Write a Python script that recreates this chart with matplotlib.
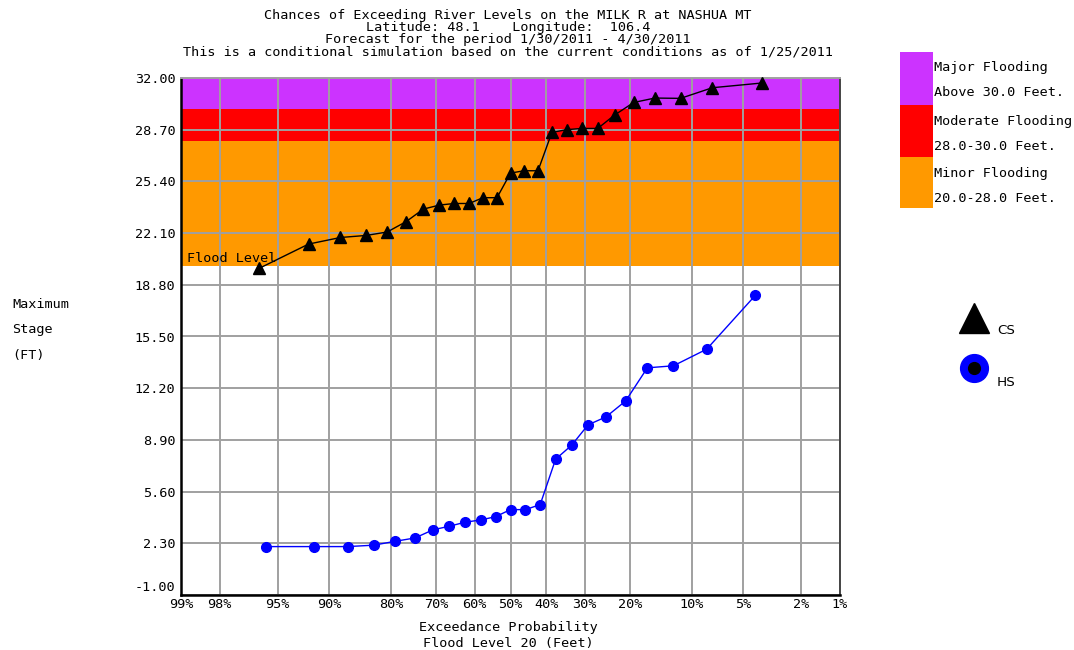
import numpy as np
import matplotlib
matplotlib.use("Agg")
import matplotlib.pyplot as plt
from matplotlib.patches import Rectangle
from matplotlib.ticker import FixedLocator, FixedFormatter
from statistics import NormalDist

# ---------------- data ----------------
title_lines = [
    "Chances of Exceeding River Levels on the MILK R at NASHUA MT",
    "Latitude: 48.1    Longitude:  106.4",
    "Forecast for the period 1/30/2011 - 4/30/2011",
    "This is a conditional simulation based on the current conditions as of 1/25/2011",
]

# CS (conditional simulation) : exceedance probability (%) and stage (ft)
cs_exceed = [96.2, 92.3, 88.5, 84.6, 80.8, 76.9, 73.1, 69.2, 65.4, 61.5, 57.7, 53.8,
             50.0, 46.2, 42.3, 38.5, 34.6, 30.8, 26.9, 23.1, 19.2, 15.4, 11.5, 7.7, 3.8]
cs_stage = [19.85, 21.40, 21.82, 21.95, 22.17, 22.84, 23.63, 23.89, 23.99, 23.99, 24.36, 24.36,
            25.93, 26.08, 26.08, 28.53, 28.70, 28.78, 28.78, 29.64, 30.44, 30.72, 30.70, 31.38, 31.68]

# HS (historical simulation)
hs_exceed = [95.8, 91.7, 87.5, 83.3, 79.2, 75.0, 70.8, 66.7, 62.5, 58.3, 54.2, 50.0,
             45.8, 41.7, 37.5, 33.3, 29.2, 25.0, 20.8, 16.7, 12.5, 8.3, 4.2]
hs_stage = [2.09, 2.09, 2.09, 2.18, 2.43, 2.64, 3.16, 3.39, 3.65, 3.79, 4.00, 4.45,
            4.45, 4.77, 7.67, 8.56, 9.86, 10.37, 11.39, 13.50, 13.63, 14.69, 18.12]

x_ticks = [99, 98, 95, 90, 80, 70, 60, 50, 40, 30, 20, 10, 5, 2, 1]
x_tick_labels = ["99%", "98%", "95%", "90%", "80%", "70%", "60%", "50%",
                 "40%", "30%", "20%", "10%", "5%", "2%", "1%"]
y_ticks = [-1.0, 2.3, 5.6, 8.9, 12.2, 15.5, 18.8, 22.1, 25.4, 28.7, 32.0]
y_tick_labels = ["-1.00", "2.30", "5.60", "8.90", "12.20", "15.50", "18.80",
                 "22.10", "25.40", "28.70", "32.00"]

band_names = ["Major Flooding", "Moderate Flooding", "Minor Flooding"]
band_desc = ["Above 30.0 Feet.", "28.0-30.0 Feet.", "20.0-28.0 Feet."]
band_low = [30.0, 28.0, 20.0]
band_high = [32.0, 30.0, 28.0]
band_colors = ["#cc33ff", "#ff0000", "#ff9900"]
flood_level = 20.0

series_names = ["CS", "HS"]

# ---------------- figure ----------------
W, H = 1074, 650
FONT = "DejaVu Sans Mono"
FS = 9.7
fig = plt.figure(figsize=(W / 100, H / 100), dpi=100)

L, R, T, B = 181, 840, 78, 595
ax = fig.add_axes([L / W, 1 - B / H, (R - L) / W, (B - T) / H])

_nd = NormalDist()
_ppf = np.vectorize(_nd.inv_cdf, otypes=[float])
_cdf = np.vectorize(_nd.cdf, otypes=[float])


def fwd(p):
    p = np.clip(np.asarray(p, dtype=float) / 100.0, 1e-9, 1 - 1e-9)
    return _ppf(p)


def inv(z):
    return 100.0 * _cdf(np.asarray(z, dtype=float))


ax.set_xscale("function", functions=(fwd, inv))
ax.set_xlim(99, 1)
ax.set_ylim(-1, 32)

for lo, hi, c in zip(band_low, band_high, band_colors):
    ax.axhspan(lo, hi, color=c, lw=0, zorder=0.5)

ax.xaxis.set_major_locator(FixedLocator(x_ticks))
ax.xaxis.set_major_formatter(FixedFormatter(x_tick_labels))
ax.xaxis.set_minor_locator(FixedLocator([]))
ax.yaxis.set_major_locator(FixedLocator(y_ticks))
# bottom label drawn separately (sits just above the axis line, like the original)
ax.yaxis.set_major_formatter(FixedFormatter([""] + y_tick_labels[1:]))
ax.grid(True, color="#a0a0a0", lw=1.4, zorder=1)
ax.tick_params(length=0, labelsize=FS, pad=2)
ax.tick_params(axis="y", pad=4)
for lab in ax.get_xticklabels() + ax.get_yticklabels():
    lab.set_fontfamily(FONT)
ax.annotate(y_tick_labels[0], xy=(0, y_ticks[0]), xycoords=ax.get_yaxis_transform(),
            xytext=(-4, 1), textcoords="offset points", ha="right", va="bottom",
            fontfamily=FONT, fontsize=FS, annotation_clip=False)

for s in ["left", "bottom"]:
    ax.spines[s].set_color("black")
    ax.spines[s].set_linewidth(1.8)
ax.spines["right"].set_color("#444444")
ax.spines["right"].set_linewidth(1.4)
ax.spines["top"].set_color("#a0a0a0")
ax.spines["top"].set_linewidth(1.4)

ax.plot(cs_exceed, cs_stage, color="black", lw=1.0, marker="^", ms=9,
        mfc="black", mec="black", zorder=3, clip_on=False)
ax.plot(hs_exceed, hs_stage, color="blue", lw=1.0, marker="o", ms=7,
        mfc="blue", mec="blue", zorder=3, clip_on=False)

ax.text(0.009, flood_level + 0.05, "Flood Level", transform=ax.get_yaxis_transform(),
        fontfamily=FONT, fontsize=FS, va="bottom", ha="left", zorder=4)

# overlay in pixel coordinates for titles, labels and legend
ov = fig.add_axes([0, 0, 1, 1])
ov.set_xlim(0, W)
ov.set_ylim(H, 0)
ov.axis("off")
ov.patch.set_visible(False)

title_y = [15, 27.5, 40, 52]
for txt, y in zip(title_lines, title_y):
    ov.text(508, y, txt, ha="center", va="center", fontfamily=FONT, fontsize=FS)

ov.text(508, 627, "Exceedance Probability", ha="center", va="center",
        fontfamily=FONT, fontsize=FS)
ov.text(508, 643, "Flood Level 20 (Feet)", ha="center", va="center",
        fontfamily=FONT, fontsize=FS)

for txt, y in zip(["Maximum", "Stage", "(FT)"], [305, 330, 355]):
    ov.text(12, y, txt, ha="left", va="center", fontfamily=FONT, fontsize=FS)

# flood category legend
box_top = [52, 105, 157]
box_bot = [105, 157, 208]
for name, desc, c, y0, y1 in zip(band_names, band_desc, band_colors, box_top, box_bot):
    ov.add_patch(Rectangle((900, y0), 33, y1 - y0, facecolor=c, edgecolor="none"))
    ov.text(934, y0 + 16, name, ha="left", va="center", fontfamily=FONT, fontsize=FS)
    ov.text(934, y0 + 41, desc, ha="left", va="center", fontfamily=FONT, fontsize=FS)

# series legend
ov.plot([974], [318], marker="^", ms=21, mfc="black", mec="black", ls="none")
ov.text(997, 330, series_names[0], ha="left", va="center", fontfamily="DejaVu Sans", fontsize=FS)
ov.plot([974], [368], marker="o", ms=20, mfc="blue", mec="blue", ls="none")
ov.plot([974], [368], marker="o", ms=8.5, mfc="black", mec="black", ls="none")
ov.text(997, 382, series_names[1], ha="left", va="center", fontfamily="DejaVu Sans", fontsize=FS)

fig.savefig("out.png", dpi=100)
